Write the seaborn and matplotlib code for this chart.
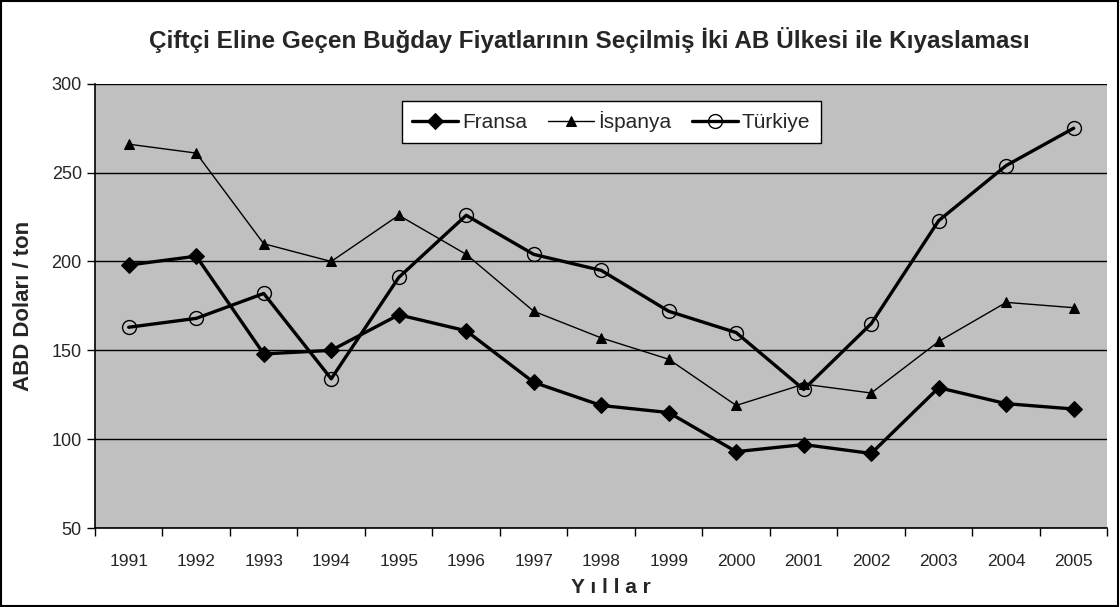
import numpy as np
import pandas as pd
import seaborn as sns
import matplotlib.pyplot as plt
from matplotlib.patches import Rectangle

# data
years = [str(y) for y in range(1991, 2006)]
fransa = [198, 203, 148, 150, 170, 161, 132, 119, 115, 93, 97, 92, 129, 120, 117]
ispanya = [266, 261, 210, 200, 226, 204, 172, 157, 145, 119, 131, 126, 155, 177, 174]
turkiye = [163, 168, 182, 134, 191, 226, 204, 195, 172, 160, 128, 165, 223, 254, 275]
series_names = ["Fransa", "İspanya", "Türkiye"]

df = pd.DataFrame({"Yıl": years, "Fransa": fransa, "İspanya": ispanya, "Türkiye": turkiye})
df["x"] = np.arange(len(years))

sns.set_style("white")
plt.rcParams["font.family"] = ["Liberation Sans", "DejaVu Sans"]

fig = plt.figure(figsize=(11.2, 6.07), dpi=100)
ax = fig.add_axes([0.0848, 0.130, 0.904, 0.732])
ax.set_facecolor("#C0C0C0")

styles = {
    "Fransa": dict(marker="D", markersize=8, linewidth=2.4, markerfacecolor="black"),
    "İspanya": dict(marker="^", markersize=7, linewidth=1.0, markerfacecolor="black"),
    "Türkiye": dict(marker="o", markersize=10, linewidth=2.4, markerfacecolor="none",
                    markeredgewidth=1.0),
}
for name in series_names:
    sns.lineplot(data=df, x="x", y=name, ax=ax, color="black", label=name,
                 markeredgecolor="black", **styles[name])

ax.set_xlim(-0.5, len(years) - 0.5)
ax.set_ylim(50, 300)
ax.set_yticks([50, 100, 150, 200, 250, 300])
ax.yaxis.grid(True, color="black", linewidth=1.0)
ax.set_axisbelow(True)

# category labels between boundary ticks (Excel style)
ax.set_xticks(np.arange(len(years) + 1) - 0.5)
ax.set_xticklabels([])
ax.set_xticks(df["x"], minor=True)
ax.set_xticklabels(years, minor=True, fontsize=12.5)
ax.tick_params(axis="x", which="major", length=6, width=1, color="black", direction="out")
ax.tick_params(axis="x", which="minor", length=0, pad=19)
ax.tick_params(axis="y", length=6, width=1, color="black", direction="out", labelsize=13)

for side in ["top", "right"]:
    ax.spines[side].set_visible(False)
for side in ["left", "bottom"]:
    ax.spines[side].set_color("black")
    ax.spines[side].set_linewidth(1.2)
ax.tick_params(axis="both", bottom=True, left=True)

ax.set_ylabel("ABD Doları / ton", fontsize=16, fontweight="bold")
ax.yaxis.set_label_coords(-0.060, 0.5)
ax.set_xlabel("Y ı l l a r", fontsize=15, fontweight="bold")
ax.xaxis.set_label_coords(0.51, -0.113)

leg = ax.legend(loc="upper center", bbox_to_anchor=(0.51, 0.985), ncol=3,
                prop={"size": 15},
                frameon=True, fancybox=False, edgecolor="black", framealpha=1,
                handlelength=2.2, columnspacing=1.0, handletextpad=0.2, borderpad=0.5)
leg.get_frame().set_linewidth(1.0)

fig.suptitle("Çiftçi Eline Geçen Buğday Fiyatlarının Seçilmiş İki AB Ülkesi ile Kıyaslaması",
             fontsize=17.5, fontweight="bold", x=0.526, y=0.955)

fig.patches.append(Rectangle((0.001, 0.002), 0.997, 0.996, transform=fig.transFigure,
                             fill=False, edgecolor="black", linewidth=1.5))

fig.savefig("out.png", dpi=100)
